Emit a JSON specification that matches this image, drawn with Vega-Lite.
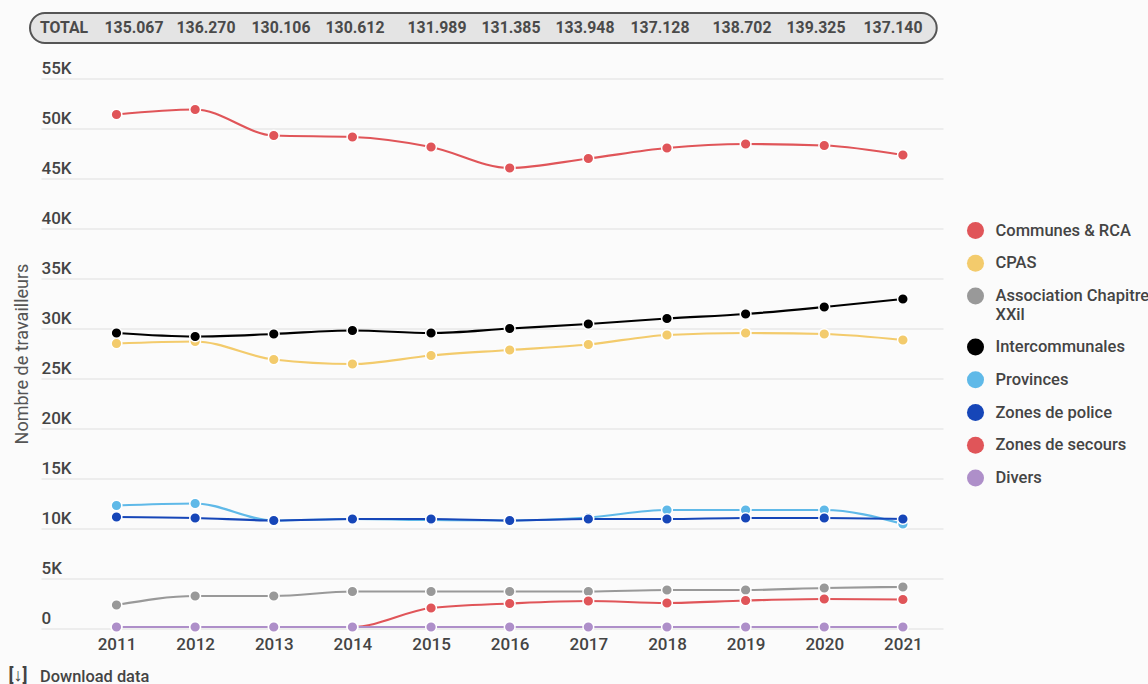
{
  "$schema": "https://vega.github.io/schema/vega-lite/v6.json",
  "autosize": {"type": "none"},
  "width": 902,
  "height": 550,
  "padding": {"left": 41, "top": 78.5, "right": 205, "bottom": 55.5},
  "background": "#fbfbfb",
  "config": {
    "view": {"stroke": null},
    "font": "Roboto",
    "text": {"font": "Roboto"}
  },
  "datasets": {
    "workers": [
      {"year": 2011, "sector": "Communes & RCA", "workers": 51400},
      {"year": 2012, "sector": "Communes & RCA", "workers": 51900},
      {"year": 2013, "sector": "Communes & RCA", "workers": 49300},
      {"year": 2014, "sector": "Communes & RCA", "workers": 49150},
      {"year": 2015, "sector": "Communes & RCA", "workers": 48150},
      {"year": 2016, "sector": "Communes & RCA", "workers": 46050},
      {"year": 2017, "sector": "Communes & RCA", "workers": 47000},
      {"year": 2018, "sector": "Communes & RCA", "workers": 48050},
      {"year": 2019, "sector": "Communes & RCA", "workers": 48450},
      {"year": 2020, "sector": "Communes & RCA", "workers": 48300},
      {"year": 2021, "sector": "Communes & RCA", "workers": 47350},
      {"year": 2011, "sector": "CPAS", "workers": 28500},
      {"year": 2012, "sector": "CPAS", "workers": 28700},
      {"year": 2013, "sector": "CPAS", "workers": 26900},
      {"year": 2014, "sector": "CPAS", "workers": 26450},
      {"year": 2015, "sector": "CPAS", "workers": 27300},
      {"year": 2016, "sector": "CPAS", "workers": 27850},
      {"year": 2017, "sector": "CPAS", "workers": 28400},
      {"year": 2018, "sector": "CPAS", "workers": 29350},
      {"year": 2019, "sector": "CPAS", "workers": 29550},
      {"year": 2020, "sector": "CPAS", "workers": 29450},
      {"year": 2021, "sector": "CPAS", "workers": 28850},
      {"year": 2011, "sector": "Association Chapitre XXil", "workers": 2350},
      {"year": 2012, "sector": "Association Chapitre XXil", "workers": 3250},
      {"year": 2013, "sector": "Association Chapitre XXil", "workers": 3250},
      {"year": 2014, "sector": "Association Chapitre XXil", "workers": 3700},
      {"year": 2015, "sector": "Association Chapitre XXil", "workers": 3700},
      {"year": 2016, "sector": "Association Chapitre XXil", "workers": 3700},
      {"year": 2017, "sector": "Association Chapitre XXil", "workers": 3700},
      {"year": 2018, "sector": "Association Chapitre XXil", "workers": 3850},
      {"year": 2019, "sector": "Association Chapitre XXil", "workers": 3850},
      {"year": 2020, "sector": "Association Chapitre XXil", "workers": 4050},
      {"year": 2021, "sector": "Association Chapitre XXil", "workers": 4150},
      {"year": 2011, "sector": "Intercommunales", "workers": 29550},
      {"year": 2012, "sector": "Intercommunales", "workers": 29200},
      {"year": 2013, "sector": "Intercommunales", "workers": 29450},
      {"year": 2014, "sector": "Intercommunales", "workers": 29800},
      {"year": 2015, "sector": "Intercommunales", "workers": 29550},
      {"year": 2016, "sector": "Intercommunales", "workers": 30000},
      {"year": 2017, "sector": "Intercommunales", "workers": 30450},
      {"year": 2018, "sector": "Intercommunales", "workers": 31000},
      {"year": 2019, "sector": "Intercommunales", "workers": 31450},
      {"year": 2020, "sector": "Intercommunales", "workers": 32150},
      {"year": 2021, "sector": "Intercommunales", "workers": 32950},
      {"year": 2011, "sector": "Provinces", "workers": 12300},
      {"year": 2012, "sector": "Provinces", "workers": 12500},
      {"year": 2013, "sector": "Provinces", "workers": 10800},
      {"year": 2014, "sector": "Provinces", "workers": 10950},
      {"year": 2015, "sector": "Provinces", "workers": 10850},
      {"year": 2016, "sector": "Provinces", "workers": 10800},
      {"year": 2017, "sector": "Provinces", "workers": 11100},
      {"year": 2018, "sector": "Provinces", "workers": 11850},
      {"year": 2019, "sector": "Provinces", "workers": 11850},
      {"year": 2020, "sector": "Provinces", "workers": 11850},
      {"year": 2021, "sector": "Provinces", "workers": 10450},
      {"year": 2011, "sector": "Zones de police", "workers": 11150},
      {"year": 2012, "sector": "Zones de police", "workers": 11050},
      {"year": 2013, "sector": "Zones de police", "workers": 10800},
      {"year": 2014, "sector": "Zones de police", "workers": 10950},
      {"year": 2015, "sector": "Zones de police", "workers": 10950},
      {"year": 2016, "sector": "Zones de police", "workers": 10800},
      {"year": 2017, "sector": "Zones de police", "workers": 10950},
      {"year": 2018, "sector": "Zones de police", "workers": 10950},
      {"year": 2019, "sector": "Zones de police", "workers": 11050},
      {"year": 2020, "sector": "Zones de police", "workers": 11050},
      {"year": 2021, "sector": "Zones de police", "workers": 10950},
      {"year": 2011, "sector": "Zones de secours", "workers": 150},
      {"year": 2012, "sector": "Zones de secours", "workers": 150},
      {"year": 2013, "sector": "Zones de secours", "workers": 150},
      {"year": 2014, "sector": "Zones de secours", "workers": 150},
      {"year": 2015, "sector": "Zones de secours", "workers": 2050},
      {"year": 2016, "sector": "Zones de secours", "workers": 2500},
      {"year": 2017, "sector": "Zones de secours", "workers": 2750},
      {"year": 2018, "sector": "Zones de secours", "workers": 2550},
      {"year": 2019, "sector": "Zones de secours", "workers": 2800},
      {"year": 2020, "sector": "Zones de secours", "workers": 2950},
      {"year": 2021, "sector": "Zones de secours", "workers": 2900},
      {"year": 2011, "sector": "Divers", "workers": 150},
      {"year": 2012, "sector": "Divers", "workers": 150},
      {"year": 2013, "sector": "Divers", "workers": 150},
      {"year": 2014, "sector": "Divers", "workers": 150},
      {"year": 2015, "sector": "Divers", "workers": 150},
      {"year": 2016, "sector": "Divers", "workers": 150},
      {"year": 2017, "sector": "Divers", "workers": 150},
      {"year": 2018, "sector": "Divers", "workers": 150},
      {"year": 2019, "sector": "Divers", "workers": 150},
      {"year": 2020, "sector": "Divers", "workers": 150},
      {"year": 2021, "sector": "Divers", "workers": 150}
    ],
    "totals": [
      {"year": 2010, "total": "TOTAL"},
      {"year": 2011, "total": "135.067"},
      {"year": 2012, "total": "136.270"},
      {"year": 2013, "total": "130.106"},
      {"year": 2014, "total": "130.612"},
      {"year": 2015, "total": "131.989"},
      {"year": 2016, "total": "131.385"},
      {"year": 2017, "total": "133.948"},
      {"year": 2018, "total": "137.128"},
      {"year": 2019, "total": "138.702"},
      {"year": 2020, "total": "139.325"},
      {"year": 2021, "total": "137.140"}
    ]
  },
  "resolve": {"scale": {"x": "independent"}},
  "layer": [
    {
      "layer": [
        {
          "description": "Rounded band behind the yearly totals, above the plot",
          "data": {"values": [{"band": "totals"}]},
          "mark": {"type": "rect", "fill": "#e4e4e4", "stroke": "#555555", "strokeWidth": 2, "cornerRadius": 15, "clip": false},
          "encoding": {
            "x": {"datum": 2009.9, "type": "quantitative", "scale": {"domain": [2010.04, 2021.51], "nice": false, "zero": false}},
            "x2": {"datum": 2021.43},
            "y": {"datum": 61550, "type": "quantitative", "scale": {"domain": [0, 55000], "nice": false}},
            "y2": {"datum": 58550}
          }
        },
        {
          "data": {"name": "workers"},
          "mark": {"type": "line", "interpolate": "monotone", "strokeWidth": 2.2},
          "encoding": {
            "x": {
              "field": "year",
              "type": "quantitative",
              "scale": {"domain": [2010.04, 2021.51], "nice": false, "zero": false},
              "axis": {
                "title": null,
                "values": [2011, 2012, 2013, 2014, 2015, 2016, 2017, 2018, 2019, 2020, 2021],
                "format": "d",
                "grid": false,
                "domain": false,
                "ticks": false,
                "labelFont": "Roboto",
                "labelFontSize": 17,
                "labelFontWeight": 500,
                "labelColor": "#444444",
                "labelPadding": 8,
                "labelFlush": false,
                "labelOverlap": false
              }
            },
            "y": {
              "field": "workers",
              "type": "quantitative",
              "scale": {"domain": [0, 55000], "nice": false},
              "axis": {
                "title": "Nombre de travailleurs",
                "titleFont": "Roboto",
                "titleFontSize": 18,
                "titleFontWeight": 400,
                "titleColor": "#555555",
                "titleX": -10,
                "values": [0, 5000, 10000, 15000, 20000, 25000, 30000, 35000, 40000, 45000, 50000, 55000],
                "labelExpr": "datum.value === 0 ? '0' : (datum.value / 1000) + 'K'",
                "labelAlign": "left",
                "labelBaseline": "alphabetic",
                "labelOffset": -5,
                "labelPadding": 0,
                "labelFont": "Roboto",
                "labelFontSize": 17,
                "labelFontWeight": 500,
                "labelColor": "#444444",
                "labelFlush": false,
                "labelOverlap": false,
                "domain": false,
                "ticks": false,
                "tickSize": 0,
                "grid": true,
                "gridColor": "#e0e0e0",
                "gridWidth": 1.2
              }
            },
            "color": {
              "field": "sector",
              "type": "nominal",
              "sort": null,
              "scale": {
                "domain": ["Communes & RCA", "CPAS", "Association Chapitre XXil", "Intercommunales", "Provinces", "Zones de police", "Zones de secours", "Divers"],
                "range": ["#e05559", "#f3cb6c", "#999999", "#000000", "#5fb9e8", "#1646b8", "#e05559", "#ae8fc9"]
              },
              "legend": {
                "orient": "none",
                "legendX": 925.5,
                "legendY": 143,
                "title": null,
                "symbolType": "circle",
                "symbolSize": 290,
                "symbolStrokeWidth": 0,
                "symbolOpacity": 1,
                "labelFont": "Roboto",
                "labelFontSize": 16.5,
                "labelFontWeight": 500,
                "labelColor": "#444444",
                "labelLimit": 175,
                "labelOffset": 11,
                "rowPadding": 14.8,
                "labelExpr": "datum.label === 'Association Chapitre XXil' ? ['Association Chapitre', 'XXil'] : datum.label",
                "encoding": {"labels": {"enter": {"lineHeight": {"value": 21}}, "update": {"lineHeight": {"value": 21}}}}
              }
            },
            "order": {"field": "year", "type": "quantitative"}
          }
        },
        {
          "data": {"name": "workers"},
          "mark": {"type": "point", "shape": "circle", "filled": true, "opacity": 1, "size": 115, "stroke": "#ffffff", "strokeWidth": 1.5, "clip": false},
          "encoding": {
            "x": {"field": "year", "type": "quantitative"},
            "y": {"field": "workers", "type": "quantitative"},
            "color": {"field": "sector", "type": "nominal", "sort": null}
          }
        },
        {
          "description": "Download link icon under the plot",
          "data": {"values": [{"link": "[↓]"}]},
          "mark": {"type": "text", "align": "center", "baseline": "middle", "font": "Roboto", "fontSize": 18, "fontWeight": 700, "color": "#444444"},
          "encoding": {
            "x": {"datum": 2009.748, "type": "quantitative"},
            "y": {"datum": -4700, "type": "quantitative"},
            "text": {"field": "link"}
          }
        },
        {
          "description": "Download link caption under the plot",
          "data": {"values": [{"link": "Download data"}]},
          "mark": {"type": "text", "align": "left", "baseline": "middle", "font": "Roboto", "fontSize": 16.4, "fontWeight": 500, "color": "#444444"},
          "encoding": {
            "x": {"datum": 2010.027, "type": "quantitative"},
            "y": {"datum": -4800, "type": "quantitative"},
            "text": {"field": "link"}
          }
        }
      ]
    },
    {
      "description": "Yearly totals inside the band; their own scale keeps the uneven spacing of the row",
      "data": {"name": "totals"},
      "mark": {"type": "text", "align": "center", "baseline": "middle", "font": "Roboto", "fontSize": 15.8, "fontWeight": 700, "color": "#4a4a4a"},
      "encoding": {
        "x": {
          "field": "year",
          "type": "quantitative",
          "axis": null,
          "scale": {
            "domain": [2010, 2011, 2012, 2013, 2014, 2015, 2016, 2017, 2018, 2019, 2020, 2021],
            "range": [23, 93, 165, 240, 314, 396, 470, 544, 619, 701, 775, 852]
          }
        },
        "y": {"datum": 60100, "type": "quantitative"},
        "text": {"field": "total"}
      }
    }
  ]
}
